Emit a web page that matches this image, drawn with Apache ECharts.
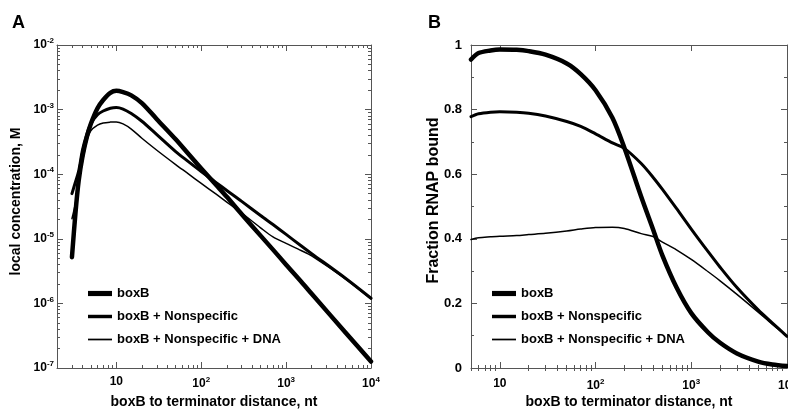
<!DOCTYPE html>
<html>
<head>
<meta charset="utf-8">
<script src="https://cdn.jsdelivr.net/npm/echarts@6/dist/echarts.min.js"></script>
<style>
html, body { margin: 0; padding: 0; background: #fff; }
#chart { width: 788px; height: 409px; }
</style>
</head>
<body>
<div id="chart"></div>
<script>
// A: local concentration (M) vs boxB to terminator distance (nt)
const distA = [3, 3.3, 3.6, 4, 4.5, 5, 6, 7, 8.5, 10, 12, 15, 20, 30, 50, 70, 100, 150, 200, 300, 500, 700, 1000, 1500, 2000, 5000, 10000]
const boxBA = [5.2e-6, 2.5e-5, 7.9e-5, 1.9e-4, 3.8e-4, 6.0e-4, 1.05e-3, 1.41e-3, 1.82e-3, 1.95e-3, 1.86e-3, 1.66e-3, 1.26e-3, 7.1e-4, 3.47e-4, 2.09e-4, 1.23e-4, 6.8e-5, 4.47e-5, 2.4e-5, 1.12e-5, 6.8e-6, 3.98e-6, 2.19e-6, 1.41e-6, 3.55e-7, 1.26e-7]
const nonspecA = [5.0e-5, 7.6e-5, 1.12e-4, 2.4e-4, 4.2e-4, 6.0e-4, 8.3e-4, 9.5e-4, 1.05e-3, 1.08e-3, 1.02e-3, 8.7e-4, 6.6e-4, 4.1e-4, 2.24e-4, 1.58e-4, 1.10e-4, 7.4e-5, 5.6e-5, 3.8e-5, 2.29e-5, 1.66e-5, 1.17e-5, 7.8e-6, 5.9e-6, 2.45e-6, 1.2e-6]
const dnaA = [2.04e-5, 3.55e-5, 7.6e-5, 1.58e-4, 3.3e-4, 4.7e-4, 5.75e-4, 6.2e-4, 6.4e-4, 6.45e-4, 6.0e-4, 5.0e-4, 3.6e-4, 2.35e-4, 1.41e-4, 1.02e-4, 7.2e-5, 4.9e-5, 3.7e-5, 2.5e-5, 1.48e-5, 1.07e-5, 8.5e-6, 6.6e-6, 5.45e-6, 2.4e-6, 1.17e-6]

// B: fraction RNAP bound vs distance
const distB = [5, 6, 8, 10, 15, 20, 30, 50, 70, 100, 150, 200, 300, 400, 500, 700, 1000, 1500, 2000, 3000, 5000, 7000, 10000]
const boxBB = [0.955, 0.975, 0.983, 0.986, 0.985, 0.981, 0.970, 0.943, 0.91, 0.86, 0.775, 0.682, 0.53, 0.428, 0.348, 0.25, 0.17, 0.11, 0.078, 0.045, 0.02, 0.011, 0.006]
const nonspecB = [0.778, 0.787, 0.792, 0.793, 0.792, 0.789, 0.78, 0.763, 0.748, 0.725, 0.697, 0.68, 0.633, 0.59, 0.553, 0.494, 0.43, 0.36, 0.312, 0.249, 0.18, 0.14, 0.098]
const dnaB = [0.398, 0.403, 0.406, 0.408, 0.41, 0.413, 0.417, 0.424, 0.43, 0.435, 0.436, 0.432, 0.416, 0.407, 0.39, 0.366, 0.336, 0.298, 0.27, 0.228, 0.173, 0.136, 0.099]

const seriesNames = ['boxB', 'boxB + Nonspecific', 'boxB + Nonspecific + DNA']
const lineWidths = [4.5, 3, 1.5]

const xTicksA = [10, 100, 1000, 10000]
const xTicksB = [10, 100, 1000, 10000]
const yTicksA = [1e-7, 1e-6, 1e-5, 1e-4, 1e-3, 1e-2]
const yTicksB = [0, 0.2, 0.4, 0.6, 0.8, 1]
const yMinorB = [0.1, 0.3, 0.5, 0.7, 0.9]

const FONT = 'Arial, "Liberation Sans", Helvetica, sans-serif'
const AXIS_COLOR = '#555'

// 2..9 x 10^k between lo and hi
function logMinor (lo, hi) {
  const out = []
  for (let e = -8; e <= 5; e++) {
    for (let m = 2; m <= 9; m++) {
      const v = m * Math.pow(10, e)
      if (v >= lo * 0.999 && v <= hi * 1.001) out.push(v)
    }
  }
  return out
}

const rich = {
  b: { fontSize: 12, fontWeight: 'bold', fontFamily: FONT, color: '#000' },
  s: { fontSize: 8, fontWeight: 'bold', fontFamily: FONT, color: '#000', padding: [0, 0, 8, 0] }
}
function powLabel (v) {
  const e = Math.round(Math.log10(v))
  if (e === 1) return '{b|10}'
  return '{b|10}{s|' + e + '}'
}

function axisSet (dim, grid, base, major, minor, labelOpt, nameOpt) {
  const pos = dim === 'x' ? ['bottom', 'top'] : ['left', 'right']
  const list = []
  pos.forEach((p, i) => {
    const main = Object.assign({}, base, {
      gridIndex: grid,
      position: p,
      axisLine: { show: true, onZero: false, lineStyle: { color: AXIS_COLOR, width: 1 } },
      axisTick: { show: true, inside: true, length: 6, customValues: major, lineStyle: { color: AXIS_COLOR, width: 1 } },
      axisLabel: i === 0 ? labelOpt : { show: false },
      splitLine: { show: false }
    })
    if (i === 0) Object.assign(main, nameOpt)
    list.push(main)
    list.push(Object.assign({}, base, {
      gridIndex: grid,
      position: p,
      axisLine: { show: false },
      axisTick: { show: true, inside: true, length: 3, customValues: minor, lineStyle: { color: AXIS_COLOR, width: 1 } },
      axisLabel: { show: false },
      splitLine: { show: false }
    }))
  })
  return list
}

const xName = {
  name: 'boxB to terminator distance, nt',
  nameLocation: 'middle',
  nameGap: 27,
  nameMoveOverlap: false,
  nameTextStyle: { fontSize: 14, fontWeight: 'bold', fontFamily: FONT, color: '#000' }
}

const xAxes = [].concat(
  axisSet('x', 0, { type: 'log', logBase: 10, min: 2, max: 10000 }, xTicksA, logMinor(2, 10000),
    { customValues: xTicksA, formatter: powLabel, rich: rich, margin: 8 }, xName),
  axisSet('x', 1, { type: 'log', logBase: 10, min: 5, max: 10000 }, xTicksB, logMinor(5, 10000),
    { customValues: xTicksB, formatter: powLabel, rich: rich, margin: 10 }, xName)
)
const yAxes = [].concat(
  axisSet('y', 0, { type: 'log', logBase: 10, min: 1e-7, max: 1e-2 }, yTicksA, logMinor(1e-7, 1e-2),
    { customValues: yTicksA, formatter: powLabel, rich: rich, margin: 3 },
    { name: 'local concentration, M', nameLocation: 'middle', nameGap: 34, nameMoveOverlap: false,
      nameTextStyle: { fontSize: 14, fontWeight: 'bold', fontFamily: FONT, color: '#000', padding: [0, 0, 0, 10] } }),
  axisSet('y', 1, { type: 'value', min: 0, max: 1 }, yTicksB, yMinorB,
    { customValues: yTicksB, fontSize: 13, fontWeight: 'bold', fontFamily: FONT, color: '#000', margin: 9 },
    { name: 'Fraction RNAP bound', nameLocation: 'middle', nameGap: 29, nameMoveOverlap: false,
      nameTextStyle: { fontSize: 16, fontWeight: 'bold', fontFamily: FONT, color: '#000', padding: [0, 0, 0, 12] } })
)

function makeSeries (dist, ys, idx, axisIdx) {
  return {
    name: seriesNames[idx],
    type: 'line',
    xAxisIndex: axisIdx,
    yAxisIndex: axisIdx,
    data: dist.map((d, i) => [d, ys[i]]),
    smooth: 0.3,
    symbol: 'none',
    lineStyle: { color: '#000', width: lineWidths[idx], cap: 'round', join: 'round' },
    z: 5 - idx
  }
}

function legendFor (left) {
  return {
    orient: 'vertical',
    left: left,
    top: 282,
    itemWidth: 24,
    itemHeight: 8,
    itemGap: 10,
    selectedMode: false,
    data: seriesNames.map((n, i) => ({
      name: n,
      icon: 'path://M0,0L24,0L24,' + lineWidths[i] * 1.15 + 'L0,' + lineWidths[i] * 1.15 + 'Z',
      itemStyle: { color: '#000' }
    })),
    textStyle: { fontSize: 13, fontWeight: 'bold', fontFamily: FONT, color: '#000' }
  }
}

const chart = echarts.init(document.getElementById('chart'), null, { renderer: 'canvas' })
chart.setOption({
  animation: false,
  backgroundColor: '#fff',
  title: [
    { text: 'A', left: 12, top: 14, padding: 0, textStyle: { fontSize: 18, fontWeight: 'bold', fontFamily: FONT, color: '#000' } },
    { text: 'B', left: 428, top: 14, padding: 0, textStyle: { fontSize: 18, fontWeight: 'bold', fontFamily: FONT, color: '#000' } }
  ],
  grid: [
    { left: 57, right: 417, top: 45, bottom: 41, outerBoundsMode: 'none' },
    { left: 471, right: 1, top: 45, bottom: 41, outerBoundsMode: 'none' }
  ],
  legend: [legendFor(83), legendFor(487)],
  xAxis: xAxes,
  yAxis: yAxes,
  series: [
    makeSeries(distA, boxBA, 0, 0),
    makeSeries(distA, nonspecA, 1, 0),
    makeSeries(distA, dnaA, 2, 0),
    makeSeries(distB, boxBB, 0, 4),
    makeSeries(distB, nonspecB, 1, 4),
    makeSeries(distB, dnaB, 2, 4)
  ]
})
</script>
</body>
</html>
